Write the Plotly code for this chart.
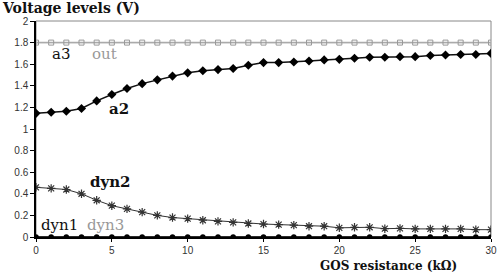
import plotly.graph_objects as go

x = list(range(0, 31))
a2 = [1.145, 1.155, 1.164, 1.19, 1.26, 1.32, 1.375, 1.42, 1.455, 1.49, 1.52, 1.54, 1.55, 1.56, 1.59,
      1.615, 1.615, 1.62, 1.63, 1.64, 1.645, 1.655, 1.665, 1.665, 1.67, 1.67, 1.68, 1.685, 1.69, 1.69, 1.70]
a3 = [1.8] * 31
out = [1.8] * 31
dyn2 = [0.46, 0.45, 0.44, 0.40, 0.34, 0.29, 0.26, 0.23, 0.20, 0.18, 0.17, 0.155, 0.145, 0.135, 0.125,
        0.12, 0.115, 0.11, 0.10, 0.10, 0.085, 0.09, 0.09, 0.077, 0.08, 0.075, 0.075, 0.075, 0.075, 0.068, 0.068]
dyn1 = [0.0] * 31
dyn3 = [0.0] * 31

y_ticks = [0, 0.2, 0.4, 0.6, 0.8, 1, 1.2, 1.4, 1.6, 1.8, 2]
y_tick_labels = ["0", "0.2", "0.4", "0.6", "0.8", "1", "1.2", "1.4", "1.6", "1.8", "2"]
x_ticks = [0, 5, 10, 15, 20, 25, 30]

fig = go.Figure()
fig.add_trace(go.Scatter(x=x, y=a3, mode="lines", line=dict(color="#333333", width=1)))
fig.add_trace(go.Scatter(x=x, y=out, mode="lines+markers", line=dict(color="#aaaaaa", width=1.5),
                         marker=dict(symbol="square-open", size=5, color="#999999", line=dict(width=1))))
fig.add_trace(go.Scatter(x=x, y=a2, mode="lines+markers", line=dict(color="#111111", width=1.5),
                         marker=dict(symbol="diamond", size=7, color="#000000")))
fig.add_trace(go.Scatter(x=x, y=dyn2, mode="lines+markers", line=dict(color="#333333", width=1),
                         marker=dict(symbol="asterisk-open", size=7, color="#333333", line=dict(width=1.2))))
fig.add_trace(go.Scatter(x=x, y=dyn3, mode="lines", line=dict(color="#999999", width=1)))
fig.add_trace(go.Scatter(x=x, y=dyn1, mode="lines+markers", line=dict(color="#000000", width=1.5),
                         marker=dict(symbol="circle", size=5.5, color="#000000")))

serif = "DejaVu Serif"
ann = [
    dict(x=1.7, y=1.69, text="a3", color="#111111"),
    dict(x=4.5, y=1.69, text="out", color="#999999"),
    dict(x=5.47, y=1.185, text="<b>a2</b>", color="#111111"),
    dict(x=4.88, y=0.51, text="<b>dyn2</b>", color="#111111"),
    dict(x=1.56, y=0.11, text="dyn1", color="#111111"),
    dict(x=4.6, y=0.11, text="dyn3", color="#999999"),
]
for a in ann:
    fig.add_annotation(x=a["x"], y=a["y"], text=a["text"], showarrow=False, xref="x", yref="y",
                       font=dict(family=serif, size=15, color=a["color"]))

fig.add_annotation(x=0, y=1, xref="paper", yref="paper", text="<b>Voltage levels (V)</b>",
                   showarrow=False, xanchor="left", yanchor="middle", xshift=-36, yshift=13.5,
                   font=dict(family=serif, size=14, color="#111111"))
fig.add_annotation(x=0.775, y=0, xref="paper", yref="paper", text="<b>GOS resistance (kΩ)</b>",
                   showarrow=False, xanchor="center", yanchor="middle", yshift=-29,
                   font=dict(family=serif, size=12, color="#111111"))

fig.add_shape(type="rect", xref="paper", yref="paper", x0=0, y0=0, x1=1, y1=1,
              line=dict(color="#888888", width=1), layer="below")

fig.update_layout(
    width=499, height=273, margin=dict(l=36, r=2, t=21, b=36),
    paper_bgcolor="white", plot_bgcolor="white", showlegend=False,
    xaxis=dict(range=[0, 30], tickvals=x_ticks, showgrid=False, zeroline=False, ticklabeloverflow="allow",
               showline=True, linecolor="#000000", linewidth=1.5, ticks="outside", ticklen=3,
               tickcolor="#000000", tickfont=dict(family="Liberation Sans", size=10, color="#333333")),
    yaxis=dict(range=[0, 2], tickvals=y_ticks, ticktext=y_tick_labels, showgrid=False, zeroline=False,
               showline=True, linecolor="#000000", linewidth=1.5, ticks="outside", ticklen=4,
               tickcolor="#000000", tickfont=dict(family="Liberation Sans", size=10, color="#333333")),
)
fig.write_html("out.html")
